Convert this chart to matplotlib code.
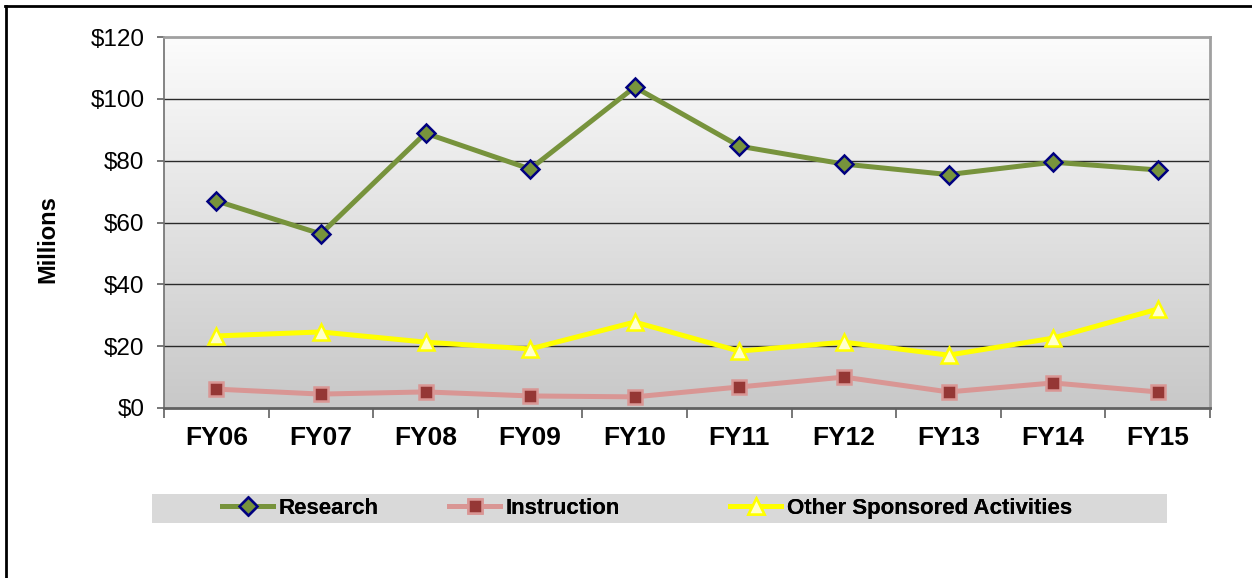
import numpy as np
import matplotlib
matplotlib.use("Agg")
import matplotlib.pyplot as plt
from matplotlib.lines import Line2D
from matplotlib.patches import Rectangle
from matplotlib.colors import LinearSegmentedColormap

categories = ["FY06", "FY07", "FY08", "FY09", "FY10", "FY11", "FY12", "FY13", "FY14", "FY15"]
research = [67.0, 56.3, 88.9, 77.3, 103.8, 84.7, 78.9, 75.5, 79.5, 77.0]
instruction = [6.1, 4.5, 5.2, 3.9, 3.6, 6.8, 10.0, 5.2, 8.1, 5.2]
other = [23.3, 24.6, 21.3, 19.1, 27.8, 18.4, 21.3, 17.1, 22.6, 32.0]
y_ticks = [0, 20, 40, 60, 80, 100, 120]
y_labels = ["$0", "$20", "$40", "$60", "$80", "$100", "$120"]

plt.rcParams['font.family'] = ['Liberation Sans', 'DejaVu Sans']

W, H = 1252, 578
fig = plt.figure(figsize=(W / 100, H / 100), dpi=100)
L, R, T, B = 164, 1210, 37, 408
ax = fig.add_axes([L / W, 1 - B / H, (R - L) / W, (B - T) / H])

x = np.arange(len(categories))
ax.set_xlim(-0.5, len(categories) - 0.5)
ax.set_ylim(0, 120)

# gradient background (gray at bottom, near-white at top)
grad = np.linspace(0, 1, 256).reshape(-1, 1)
cmap = LinearSegmentedColormap.from_list("g", ["#c8c8c8", "#fcfcfc"])
ax.imshow(grad, aspect='auto', cmap=cmap, extent=[0, 1, 0, 1], origin='lower',
          transform=ax.transAxes, zorder=0)

for yv in y_ticks[1:-1]:
    ax.axhline(yv, color="#2a2a2a", lw=1.0, zorder=1)

ax.plot(x, research, color="#77933C", lw=3.6, marker="D", ms=9,
        mfc="#77933C", mec="#000080", mew=1.8, zorder=4, label="Research")
ax.plot(x, instruction, color="#D99694", lw=3.6, marker="s", ms=10,
        mfc="#953735", mec="#D99694", mew=1.8, zorder=3, label="Instruction")
ax.plot(x, other, color="#FFFF00", lw=3.6, marker="^", ms=11,
        mfc="#FFFFCC", mec="#FFFF00", mew=1.8, zorder=3, label="Other Sponsored Activities")

ax.set_yticks(y_ticks)
ax.set_yticklabels(y_labels, fontsize=17.5)
ax.set_xticks(x)
ax.set_xticklabels(categories, fontsize=19, fontweight='bold')
ax.set_xticks(np.arange(-0.5, len(categories), 1.0), minor=True)
ax.tick_params(axis='x', which='major', length=0, pad=13)
ax.tick_params(axis='x', which='minor', length=7, width=1.2, color="#606060", direction='out')
ax.tick_params(axis='y', which='major', length=5, width=1.2, color="#606060", direction='out', pad=9)

ax.spines['top'].set_color("#a0a0a0")
ax.spines['right'].set_color("#a0a0a0")
ax.spines['top'].set_linewidth(2)
ax.spines['right'].set_linewidth(2)
ax.spines['left'].set_color("#707070")
ax.spines['left'].set_linewidth(1.2)
ax.spines['bottom'].set_color("#606060")
ax.spines['bottom'].set_linewidth(2)

fig.text(48 / W, 1 - 239 / H, "Millions", rotation=90, fontsize=17,
         fontweight='bold', ha='center', va='center')

# legend band
fig.add_artist(Rectangle((152 / W, 1 - 523 / H), (1167 - 152) / W, 29 / H,
                         transform=fig.transFigure, facecolor="#d9d9d9",
                         edgecolor='none', zorder=0))
handles, labels = ax.get_legend_handles_labels()
legend_x = [222, 449, 730]
for h, lab, lx in zip(handles, labels, legend_x):
    lg = fig.legend([h], [lab], loc='center left',
                    bbox_to_anchor=(lx / W, 1 - 508.5 / H),
                    frameon=False, prop={'weight': 'bold', 'size': 16},
                    handlelength=2.3, handletextpad=0.25, borderpad=0,
                    borderaxespad=0)
    fig.add_artist(lg)

# outer border (top and left)
fig.add_artist(Line2D([5 / W, 1], [1 - 6 / H, 1 - 6 / H], transform=fig.transFigure,
                      color='black', lw=2))
fig.add_artist(Line2D([6 / W, 6 / W], [0, 1 - 6 / H], transform=fig.transFigure,
                      color='black', lw=2))

fig.savefig("out.png", dpi=100)
